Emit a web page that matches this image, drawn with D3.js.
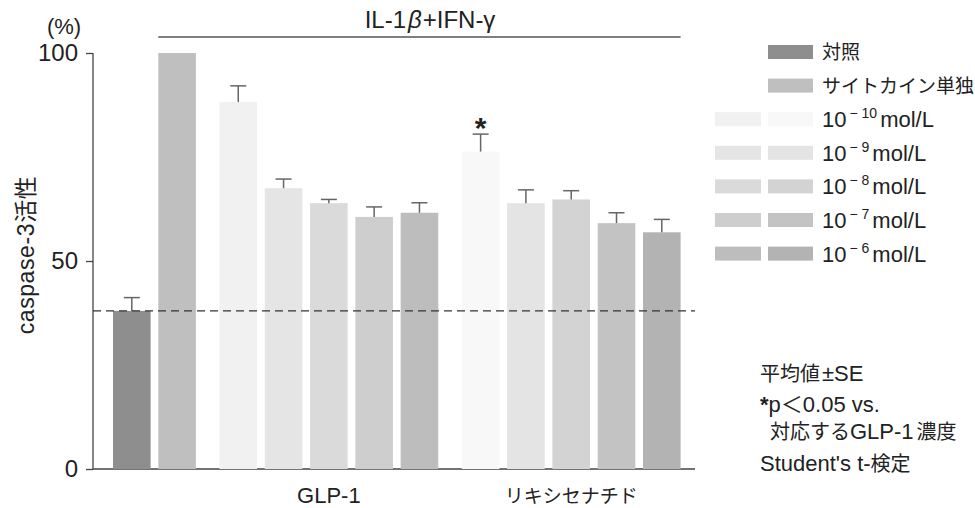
<!DOCTYPE html>
<html>
<head>
<meta charset="utf-8">
<script src="https://cdn.jsdelivr.net/npm/d3@7"></script>
<style>
  body { margin: 0; background: #fff; }
  svg { font-family: "Liberation Sans", "Noto Sans CJK JP", sans-serif; fill: #222; }
</style>
</head>
<body>
<script>
// ---- data ----
const concExp = ["10", "9", "8", "7", "6"];
const controlValue = 38.0, controlErr = 3.2;
const cytokineValue = 100;
const glpValues = [88.2, 67.5, 63.9, 60.6, 61.6];
const glpErr = [3.9, 2.2, 0.9, 2.4, 2.4];
const rikiValues = [76.3, 63.9, 64.8, 59.1, 56.9];
const rikiErr = [4.2, 3.2, 2.1, 2.5, 3.1];
const rikiStar = [true, false, false, false, false];
const groupLabels = ["GLP-1", "リキシセナチド"];
const yTicks = [0, 50, 100];

const glpColors = ["#f1f1f1", "#e5e5e5", "#dadada", "#cecece", "#bdbdbd"];
const rikiColors = ["#f8f8f8", "#e4e4e4", "#d3d3d3", "#c3c3c3", "#b3b3b3"];
const controlColor = "#8e8e8e", cytokineColor = "#bfbfbf";

const width = 975, height = 508;
const gap = 0.35;  // extra space between groups, in bar slots

// build the bar list
const bars = [];
bars.push({ slot: 0, value: controlValue, err: controlErr, color: controlColor });
bars.push({ slot: 1, value: cytokineValue, err: 0, color: cytokineColor });
glpValues.forEach((v, i) => bars.push({ slot: 2 + gap + i, value: v, err: glpErr[i], color: glpColors[i] }));
rikiValues.forEach((v, i) => bars.push({ slot: 7 + 2 * gap + i, value: v, err: rikiErr[i], color: rikiColors[i], star: rikiStar[i] }));

const svg = d3.select("body").append("svg")
    .attr("width", width)
    .attr("height", height);

const x = d3.scaleLinear().domain([0, 1]).range([113, 158.3]);
const bw = (x(1) - x(0)) * 0.83;
const y = d3.scaleLinear().domain([0, 100]).range([469, 53]);

// y axis
const yAxis = d3.axisLeft(y).tickValues(yTicks).tickSize(7).tickPadding(8);
const gy = svg.append("g").attr("transform", "translate(93,0)").call(yAxis);
gy.select(".domain").attr("d", "M0," + y(100) + "V" + y(0)).attr("stroke", "#444").attr("stroke-width", 1.3);
gy.selectAll(".tick line").attr("stroke", "#444").attr("stroke-width", 1.3);
gy.selectAll(".tick text")
    .style("font-size", "24px")
    .style("font-family", "'Liberation Sans', sans-serif")
    .attr("fill", "#222");

// baseline
svg.append("line")
    .attr("x1", 93).attr("x2", 695)
    .attr("y1", y(0)).attr("y2", y(0))
    .attr("stroke", "#444").attr("stroke-width", 1.3);

// bars
svg.selectAll("rect.bar")
    .data(bars)
    .join("rect")
    .attr("class", "bar")
    .attr("x", d => x(d.slot))
    .attr("y", d => y(d.value))
    .attr("width", bw)
    .attr("height", d => y(0) - y(d.value))
    .attr("fill", d => d.color);

// error bars
const eb = svg.selectAll("g.err")
    .data(bars.filter(d => d.err > 0))
    .join("g")
    .attr("class", "err")
    .attr("stroke", "#666")
    .attr("stroke-width", 1.5);
eb.append("line")
    .attr("x1", d => x(d.slot) + bw / 2).attr("x2", d => x(d.slot) + bw / 2)
    .attr("y1", d => y(d.value)).attr("y2", d => y(d.value + d.err));
eb.append("line")
    .attr("x1", d => x(d.slot) + bw / 2 - 8).attr("x2", d => x(d.slot) + bw / 2 + 8)
    .attr("y1", d => y(d.value + d.err)).attr("y2", d => y(d.value + d.err));

// significance star
svg.selectAll("text.star")
    .data(bars.filter(d => d.star))
    .join("text")
    .attr("class", "star")
    .attr("x", d => x(d.slot) + bw / 2)
    .attr("y", d => y(d.value + d.err) + 4)
    .attr("text-anchor", "middle")
    .style("font-size", "30px")
    .style("font-weight", "bold")
    .text("*");

// control reference line
svg.append("line")
    .attr("x1", 93).attr("x2", 695)
    .attr("y1", y(controlValue)).attr("y2", y(controlValue))
    .attr("stroke", "#333").attr("stroke-width", 1.2)
    .attr("stroke-dasharray", "8,5");

// treatment bracket
svg.append("line")
    .attr("x1", x(1)).attr("x2", x(7 + 2 * gap + 4) + bw)
    .attr("y1", 37).attr("y2", 37)
    .attr("stroke", "#555").attr("stroke-width", 1.5);
const title = svg.append("text")
    .attr("x", 430)
    .attr("y", 28)
    .attr("text-anchor", "middle")
    .style("font-size", "24px");
title.append("tspan").text("IL-1");
title.append("tspan").attr("dx", 2).style("font-style", "italic").text("β");
title.append("tspan").attr("dx", 1).text("+IFN-γ");

// (%) and y label
svg.append("text")
    .attr("x", 64).attr("y", 34)
    .attr("text-anchor", "middle")
    .style("font-size", "22px")
    .text("(%)");
svg.append("text")
    .attr("transform", "translate(34," + 255 + ") rotate(-90)")
    .attr("text-anchor", "middle")
    .style("font-size", "23px")
    .style("letter-spacing", "0.6px")
    .text("caspase-3活性");

// group labels
groupLabels.forEach((g, gi) => {
    const mid = 2 + gap + gi * (5 + gap) + 2;
    svg.append("text")
        .attr("x", x(mid) + bw / 2)
        .attr("y", 503)
        .attr("text-anchor", "middle")
        .style("font-size", gi === 0 ? "22px" : "19px")
        .text(g);
});

// legend
const lg = svg.append("g");
const rowY = i => 52 + i * 33.6;
lg.append("rect").attr("x", 768).attr("y", rowY(0) - 7).attr("width", 45).attr("height", 14).attr("fill", controlColor);
lg.append("text").attr("x", 822).attr("y", rowY(0) + 7).style("font-size", "19px").text("対照");
lg.append("rect").attr("x", 768).attr("y", rowY(1) - 7).attr("width", 45).attr("height", 14).attr("fill", cytokineColor);
lg.append("text").attr("x", 822).attr("y", rowY(1) + 7).style("font-size", "19px").text("サイトカイン単独");
concExp.forEach((e, i) => {
    const cy = rowY(i + 2);
    lg.append("rect").attr("x", 715).attr("y", cy - 7).attr("width", 46).attr("height", 14).attr("fill", glpColors[i]);
    lg.append("rect").attr("x", 768).attr("y", cy - 7).attr("width", 45).attr("height", 14).attr("fill", rikiColors[i]);
    const t = lg.append("text").attr("x", 822).attr("y", cy + 8).style("font-size", "22px");
    t.append("tspan").text("10");
    t.append("tspan").attr("dx", 3).attr("dy", -9).style("font-size", "14px").text("− " + e);
    t.append("tspan").attr("dx", 3).attr("dy", 9).text("mol/L");
});

// notes
const n1 = svg.append("text").attr("x", 760).attr("y", 381).style("font-size", "20px");
n1.append("tspan").text("平均値");
n1.append("tspan").attr("dx", 2).style("font-size", "22px").text("±SE");
const n2 = svg.append("text").attr("x", 760).attr("y", 412).style("font-size", "22px");
n2.append("tspan").style("font-weight", "bold").text("*");
n2.append("tspan").text("p＜0.05 vs.");
const n3 = svg.append("text").attr("x", 770).attr("y", 439).style("font-size", "20px");
n3.append("tspan").text("対応する");
n3.append("tspan").style("font-size", "22px").text("GLP-1");
n3.append("tspan").attr("dx", 3).text("濃度");
const n4 = svg.append("text").attr("x", 760).attr("y", 471).style("font-size", "22px");
n4.append("tspan").text("Student's t-");
n4.append("tspan").style("font-size", "20px").text("検定");
</script>
</body>
</html>
